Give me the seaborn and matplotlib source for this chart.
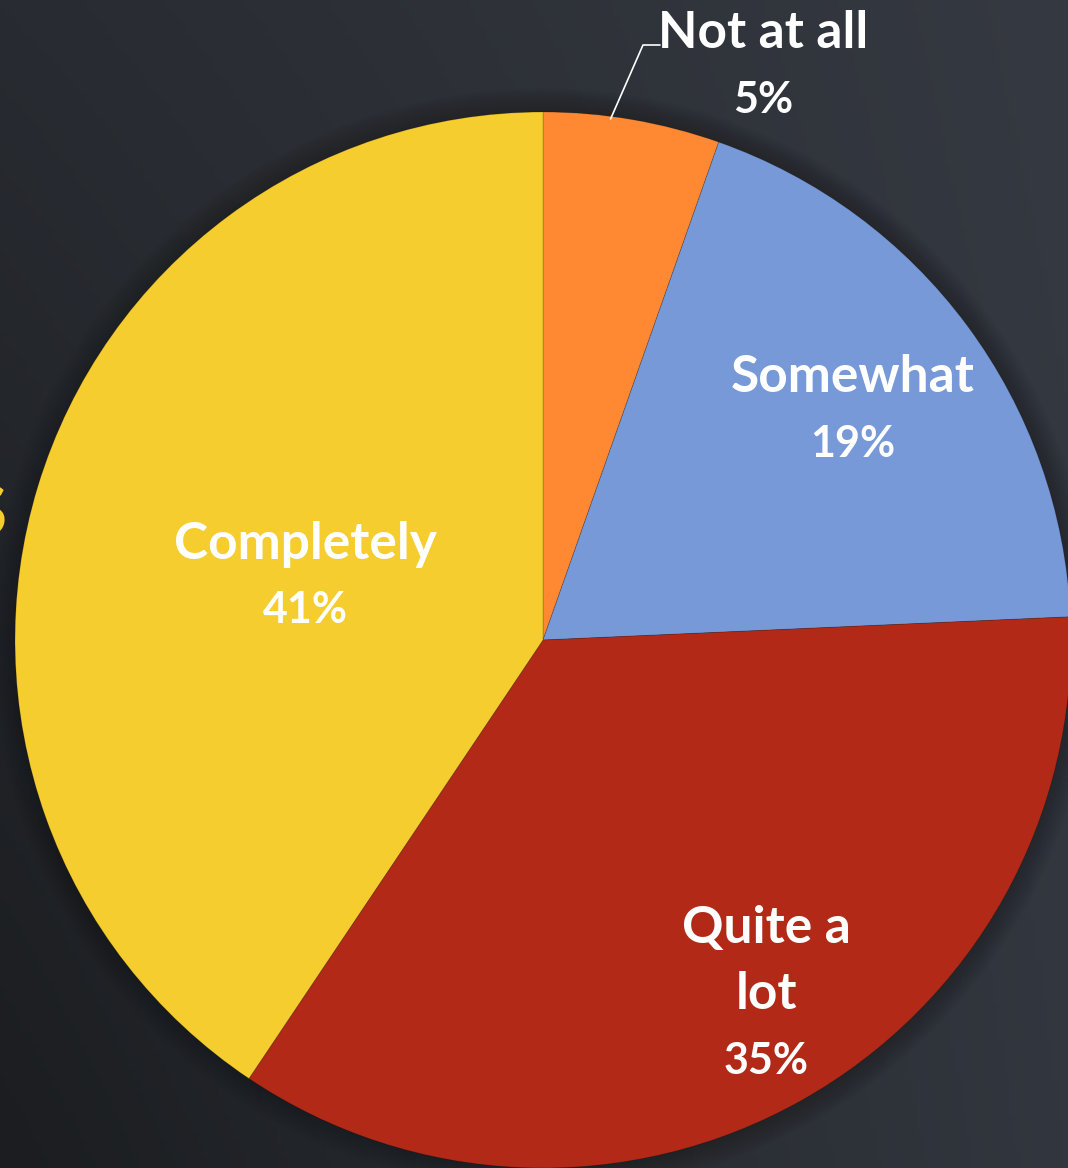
import numpy as np
import matplotlib
import matplotlib.pyplot as plt
import seaborn as sns

matplotlib.use('Agg')

# survey answers, clockwise from 12 o'clock
categories = ['Not at all', 'Somewhat', 'Quite a\nlot', 'Completely']
shares = [5.4, 18.9, 35.1, 40.6]
slice_colors = ['#FF8833', '#7799D8', '#B22A17', '#F5CD2E']

sns.set_theme(style='white')
plt.rcParams['font.family'] = ['Lato', 'DejaVu Sans']

W, H = 1068, 1168
cx, cy, R = 543, 640, 528

fig = plt.figure(figsize=(W / 100, H / 100), dpi=100)

# dark gradient backdrop
bg = fig.add_axes([0, 0, 1, 1])
bg.axis('off')
tl, tr = np.array([40, 43, 49]), np.array([53, 57, 65])
bl, br = np.array([27, 29, 32]), np.array([50, 55, 63])
u = np.linspace(0, 1, 200)[None, :, None]
v = np.linspace(0, 1, 200)[:, None, None]
grad = ((1 - v) * ((1 - u) * tl + u * tr) + v * ((1 - u) * bl + u * br)) / 255
bg.imshow(grad, aspect='auto', extent=[0, 1, 0, 1])
bg.set_xlim(0, 1)
bg.set_ylim(0, 1)

ax = fig.add_axes([0, 0, 1, 1])

# soft shadow under the pie
for k in range(10):
    ax.add_patch(plt.Circle((0, 0), 1.0 + 0.005 * k, color='black',
                            alpha=0.025, lw=0, zorder=0))

wedges, _ = ax.pie(shares, colors=slice_colors, startangle=90,
                   counterclock=False, radius=1.0,
                   wedgeprops=dict(linewidth=0.6, edgecolor='#00000030'))

ax.axis('off')
ax.set_aspect('auto')
ax.set_xlim(-cx / R, (W - cx) / R)
ax.set_ylim(-(H - cy) / R, cy / R)

PX = 72 / 100  # points per pixel


def stacked_label(x, y, lines):
    # lines stacked around (x, y), percent line set a bit smaller
    n = len(lines)
    for i, s in enumerate(lines):
        off = ((n - 1) / 2 - i) * 66 * PX
        ax.annotate(s, (x, y), xytext=(0, off), textcoords='offset points',
                    ha='center', va='center', color='white',
                    fontsize=31 if s.endswith('%') else 37, fontweight='bold')


total = sum(shares)
pcts = [f'{round(v / total * 100)}%' for v in shares]

# label placement: radius and small angle nudge per slice
label_r = [None, 0.73, 0.794, 0.466]
label_dang = [0, 0, 2.8, 2.1]
for w, cat, pct, r, da in zip(wedges, categories, pcts, label_r, label_dang):
    if r is None:
        continue
    ang = np.deg2rad((w.theta1 + w.theta2) / 2 + da)
    stacked_label(r * np.cos(ang), r * np.sin(ang), cat.split('\n') + [pct])

# small slice gets an outside label with a leader line
w0 = wedges[0]
ang0 = np.deg2rad(w0.theta1 + 0.62 * (w0.theta2 - w0.theta1))
p0 = (0.995 * np.cos(ang0), 0.995 * np.sin(ang0))
ax.plot([p0[0], (643 - cx) / R, (660 - cx) / R],
        [p0[1], (cy - 45) / R, (cy - 45) / R], color='white', lw=1.2)
stacked_label((763 - cx) / R, (cy - 67) / R, [categories[0], pcts[0]])

# clipped title glyph peeking in at the left edge
fig.text(7 / W, 1 - 516 / H, 'S', ha='right', va='center', color='#F5CD2E',
         fontsize=50, fontweight='bold')

fig.savefig('out.png', dpi=100)
